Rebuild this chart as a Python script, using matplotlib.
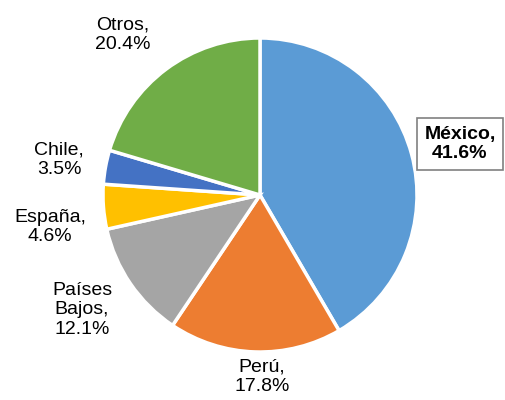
import matplotlib.pyplot as plt

paises = ['México', 'Perú', 'Países\nBajos', 'España', 'Chile', 'Otros']
porcentajes = [41.6, 17.8, 12.1, 4.6, 3.5, 20.4]
colores = ['#5B9BD5', '#ED7D31', '#A5A5A5', '#FFC000', '#4472C4', '#70AD47']

# label centres in pixel coords (y measured from the top)
posiciones = [(460, 144), (262, 377), (82, 310), (50, 227), (59, 160), (123, 35)]

plt.rcParams['font.family'] = ['Liberation Sans', 'DejaVu Sans']

fig = plt.figure(figsize=(5.06, 4.0), dpi=100)
ax = fig.add_axes([0, 0, 1, 1])

ax.pie(porcentajes, colors=colores, startangle=90, counterclock=False,
       center=(260, 400 - 195), radius=157, frame=True,
       wedgeprops=dict(edgecolor='white', linewidth=2.5))
ax.set_xlim(0, 506)
ax.set_ylim(0, 400)
ax.axis('off')

for i, (pais, pct) in enumerate(zip(paises, porcentajes)):
    x, y = posiciones[i]
    texto = f'{pais},\n{pct:.1f}%'
    if i == 0:
        ax.text(x, 400 - y, texto, ha='center', va='center', fontsize=14,
                fontweight='bold', linespacing=1.2,
                bbox=dict(boxstyle='square,pad=0.38', facecolor='white',
                          edgecolor='#808080', linewidth=1.2))
    else:
        ax.text(x, 400 - y, texto, ha='center', va='center', fontsize=14,
                linespacing=1.2, color='#000000')

fig.savefig('out.png', dpi=100)
